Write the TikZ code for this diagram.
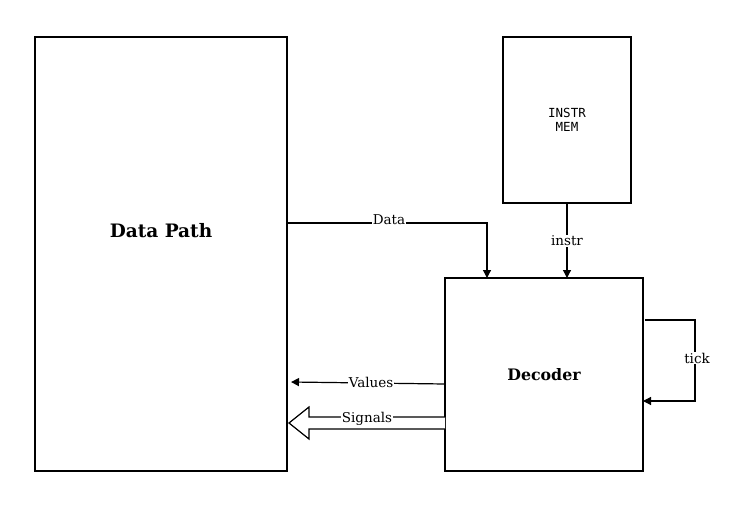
\documentclass[tikz,border=0pt]{standalone}
\usepackage{fontspec}
\setmainfont{DejaVu Serif}
\setmonofont{DejaVu Sans Mono}
\usetikzlibrary{arrows.meta}
\begin{document}
\begin{tikzpicture}[x=1pt,y=-1pt,
  blk/.style={draw, line width=1.2pt, inner sep=0pt},
  conn/.style={draw, line width=1.2pt, -{Triangle[length=8pt,width=8pt]}},
  lbl/.style={fill=white, inner sep=0.5pt, font=\fontsize{13.5}{16}\selectfont}]
\useasboundingbox (0,0) rectangle (744,514);
\node[blk, minimum width=252pt, minimum height=434pt] (dp) at (161,254) {};
\node[font=\fontsize{18.5}{22}\selectfont\bfseries] at (161,231) {Data Path};
\node[blk, minimum width=128pt, minimum height=166pt, font=\fontsize{12.5}{14}\selectfont\ttfamily, align=center] (im) at (567,120) {INSTR\\MEM};
\node[blk, minimum width=198pt, minimum height=193pt, font=\fontsize{15.8}{18}\selectfont\bfseries] (dec) at (544,374.5) {Decoder};
% Data
\coordinate (d0) at (287,223);
\coordinate (d1) at (487,223);
\coordinate (d2) at (487,278);
\draw[conn] (d0) -- (d1) -- (d2);
\node[lbl] at (389,220) {Data};
% instr
\coordinate (i0) at (567,203);
\coordinate (i1) at (567,278);
\draw[conn] (i0) -- (i1);
\node[lbl] at (567,241) {instr};
% tick
\coordinate (t0) at (645,320);
\coordinate (t1) at (695,320);
\coordinate (t2) at (695,401);
\coordinate (t3) at (643,401);
\draw[conn] (t0) -- (t1) -- (t2) -- (t3);
\node[lbl] at (697,358) {tick};
% Values
\coordinate (v0) at (445,384);
\coordinate (v1) at (291,382);
\draw[conn] (v0) -- (v1);
\node[lbl] at (371,382) {Values};
% Signals hollow arrow
\coordinate (s0) at (445,417);
\coordinate (s1) at (309,417);
\coordinate (s2) at (309,407);
\coordinate (s3) at (289,423);
\coordinate (s4) at (309,439);
\coordinate (s5) at (309,429);
\coordinate (s6) at (445,429);
\draw[line width=1.2pt, fill=white, line join=miter] (s0) -- (s1) -- (s2) -- (s3) -- (s4) -- (s5) -- (s6);
\node[lbl] at (367,419) {Signals};
\end{tikzpicture}
\end{document}
